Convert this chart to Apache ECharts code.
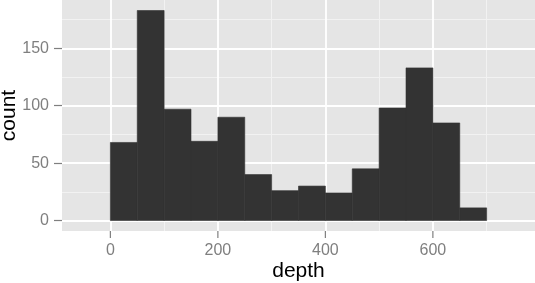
<!DOCTYPE html>
<html>
<head>
<meta charset="utf-8">
<script src="https://cdn.jsdelivr.net/npm/echarts@6/dist/echarts.min.js"></script>
<style>
html,body{margin:0;padding:0;background:#fff;}
#chart{width:535px;height:283px;}
</style>
</head>
<body>
<div id="chart"></div>
<script>
// Histogram of depth, binwidth 50
const binStarts = [0, 50, 100, 150, 200, 250, 300, 350, 400, 450, 500, 550, 600, 650];
const counts    = [68, 183, 97, 69, 90, 40, 26, 30, 24, 45, 98, 133, 85, 11];
const binWidth = 50;
const xLimits = [-90, 790];
const yLimits = [-9.15, 192.15];
const xMajorTicks = [0, 200, 400, 600];
const xMinorTicks = [100, 300, 500, 700];
const yMajorTicks = [0, 50, 100, 150];
const yMinorTicks = [25, 75, 125, 175];
const xTitle = 'depth';
const yTitle = 'count';

const FONT = '"Liberation Sans", Arial, sans-serif';
const TICK_COLOR = '#7F7F7F';
const barData = binStarts.map((s, i) => [s, s + binWidth, counts[i]]);

const gridLines = [];
xMinorTicks.forEach(v => gridLines.push({xAxis: v, lineStyle: {color: '#F2F2F2', width: 1, type: 'solid'}}));
yMinorTicks.forEach(v => gridLines.push({yAxis: v, lineStyle: {color: '#F2F2F2', width: 1, type: 'solid'}}));
xMajorTicks.forEach(v => gridLines.push({xAxis: v, lineStyle: {color: '#FFFFFF', width: 1.8, type: 'solid'}}));
yMajorTicks.forEach(v => gridLines.push({yAxis: v, lineStyle: {color: '#FFFFFF', width: 1.8, type: 'solid'}}));

const chart = echarts.init(document.getElementById('chart'), null, {renderer: 'canvas'});
chart.setOption({
  animation: false,
  backgroundColor: '#FFFFFF',
  grid: {
    left: 62, right: 0, top: 0, bottom: 52,
    containLabel: false, outerBoundsMode: 'none',
    show: true, backgroundColor: '#E5E5E5', borderWidth: 0
  },
  xAxis: {
    type: 'value', min: xLimits[0], max: xLimits[1],
    axisLine: {show: false, onZero: false},
    splitLine: {show: false},
    axisTick: {show: false},
    axisLabel: {customValues: xMajorTicks, color: '#7F7F7F', fontSize: 16, fontFamily: FONT, margin: 12},
    name: xTitle, nameLocation: 'middle', nameGap: 30, nameMoveOverlap: false,
    nameTextStyle: {color: '#000000', fontSize: 21, fontFamily: FONT}
  },
  yAxis: {
    type: 'value', min: yLimits[0], max: yLimits[1],
    axisLine: {show: false, onZero: false},
    splitLine: {show: false},
    axisTick: {show: true, inside: false, length: 8, customValues: yMajorTicks, lineStyle: {color: TICK_COLOR, width: 1.2}},
    axisLabel: {customValues: yMajorTicks, color: '#7F7F7F', fontSize: 16, fontFamily: FONT, margin: 13},
    name: yTitle, nameLocation: 'middle', nameGap: 42, nameRotate: 90, nameMoveOverlap: false,
    nameTextStyle: {color: '#000000', fontSize: 21, fontFamily: FONT}
  },
  series: [
    {
      type: 'line', data: [], z: 1, silent: true,
      markLine: {z: 1, silent: true, symbol: ['none', 'none'], label: {show: false}, animation: false, data: gridLines}
    },
    {
      type: 'custom', z: 10, silent: true,
      data: barData,
      encode: {x: [0, 1], y: 2},
      renderItem: function (params, api) {
        const p0 = api.coord([api.value(0), api.value(2)]);
        const p1 = api.coord([api.value(1), 0]);
        return {
          type: 'rect',
          shape: {x: p0[0], y: p0[1], width: p1[0] - p0[0], height: p1[1] - p0[1]},
          style: {fill: '#333333', stroke: '#333333', lineWidth: 0.6}
        };
      }
    }
  ]
});

// x-axis tick marks below the panel, positioned through the axis scale
const tickGraphics = xMajorTicks.map(v => {
  const p = chart.convertToPixel({xAxisIndex: 0, yAxisIndex: 0}, [v, yLimits[0]]);
  return {
    type: 'line', z: 100, silent: true,
    shape: {x1: p[0], y1: p[1], x2: p[0], y2: p[1] + 7},
    style: {stroke: TICK_COLOR, lineWidth: 1.2}
  };
});
chart.setOption({graphic: {elements: tickGraphics}});
</script>
</body>
</html>
